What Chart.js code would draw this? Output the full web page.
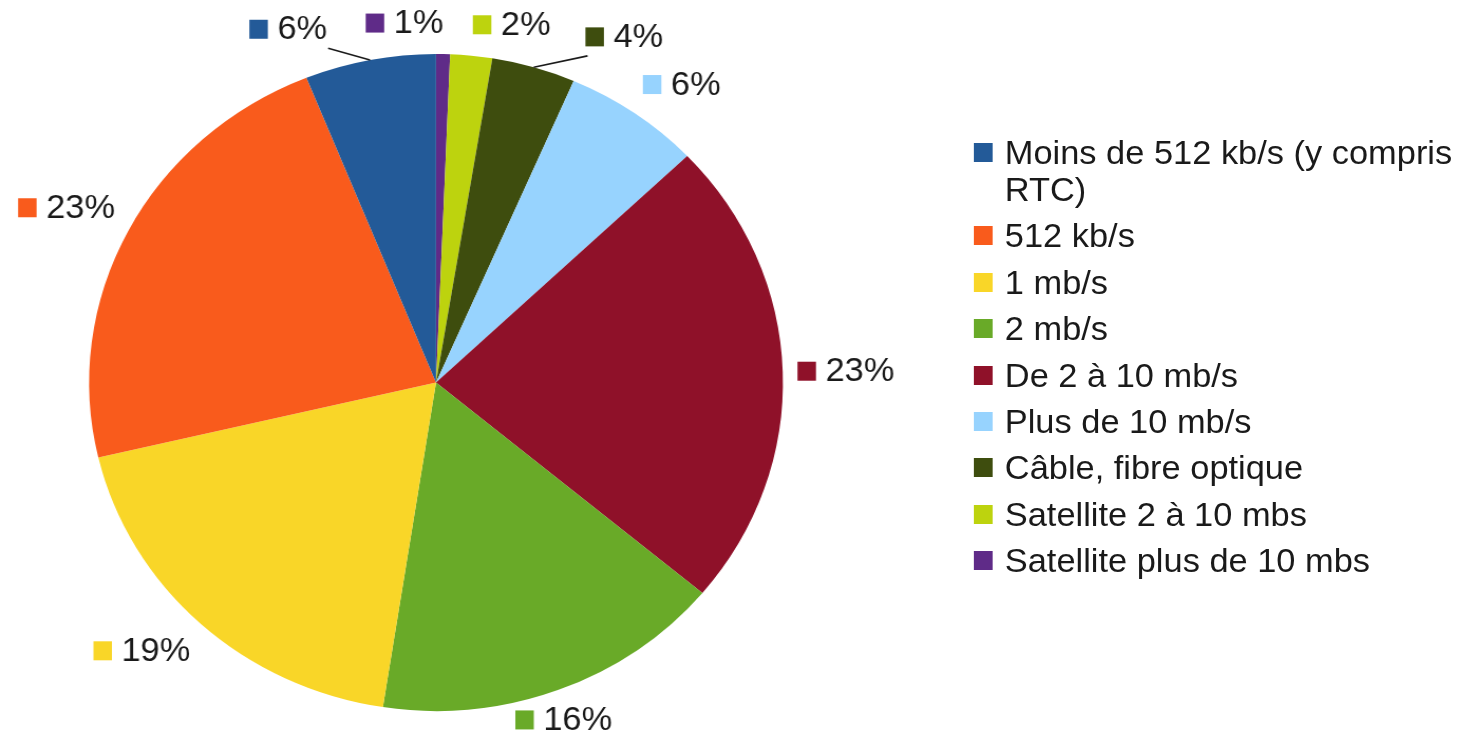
<!DOCTYPE html>
<html>
<head>
<meta charset="utf-8">
<script src="https://cdn.jsdelivr.net/npm/chart.js@4.4.1/dist/chart.umd.min.js"></script>
<style>
  html, body { margin: 0; padding: 0; background: #fff; overflow: hidden; }
  /* the source picture is a little wider than tall, so stretch the whole stage */
  #stage { position: absolute; left: 0; top: 0; width: 1390px; height: 736px;
           transform: scaleX(1.056); transform-origin: 0 0;
           font-family: "Liberation Sans", Arial, sans-serif; }
  #pieBox { position: absolute; left: 0; top: 0; width: 1390px; height: 736px; }
  #legend { position: absolute; left: 922px; top: 134px; margin: 0; padding: 0; list-style: none; }
  #legend li { position: relative; width: 432px; padding-left: 29.5px; margin-bottom: 9.4px;
               font-size: 32.6px; line-height: 37px; color: #1a1a1a; }
  #legend li span { position: absolute; left: 0; top: 9px; width: 17.5px; height: 19px; }
</style>
</head>
<body>
<div id="stage">
  <div id="pieBox"><canvas id="chart"></canvas></div>
  <ul id="legend"></ul>
</div>
<script>
const categories = [
  'Moins de 512 kb/s (y compris RTC)',
  '512 kb/s',
  '1 mb/s',
  '2 mb/s',
  'De 2 à 10 mb/s',
  'Plus de 10 mb/s',
  'Câble, fibre optique',
  'Satellite 2 à 10 mbs',
  'Satellite plus de 10 mbs'
];
const shares = [6.1, 22.6, 18.9, 16.4, 23.2, 6.4, 3.9, 1.95, 0.65];
const colors = [
  '#235a98', '#f95b1c', '#f9d628',
  '#69aa28', '#8f1129', '#97d3fe',
  '#3e4d0e', '#bdd30e', '#5f2b88'
];

// labels that get pushed sideways (with a leader line) to avoid overlapping
const labelShift = {
  'Moins de 512 kb/s (y compris RTC)': -38,
  'Câble, fibre optique': 45
};

// slices run counter-clockwise from the top in the source, so feed them reversed
let pieLabels = categories.slice().reverse();
let pieValues = shares.slice().reverse();
let pieColors = colors.slice().reverse();

const outsideLabels = {
  id: 'outsideLabels',
  afterDatasetsDraw(chart, args, opts) {
    const ctx = chart.ctx;
    const meta = chart.getDatasetMeta(0);
    const data = chart.data.datasets[0].data;
    const total = data.reduce((a, b) => a + b, 0);
    ctx.save();
    ctx.font = opts.font;
    meta.data.forEach((arc, i) => {
      const p = arc.getProps(['x', 'y', 'startAngle', 'endAngle', 'outerRadius'], true);
      const mid = (p.startAngle + p.endAngle) / 2;
      const h = Math.cos(mid), v = -Math.sin(mid);
      const R = p.outerRadius + opts.gap;
      const px = p.x + h * R, py = p.y - v * R;
      const text = Math.round(data[i] / total * 100) + '%';
      const tw = ctx.measureText(text).width;
      const bw = opts.box + opts.boxGap + tw, bh = opts.height;

      let left;
      if (v < -0.9) left = px - bw / 2;
      else if (h > 0.05) left = px;
      else left = px - bw;
      let top;
      if (v > 0.3) top = py - bh;
      else if (v < -0.3) top = py;
      else top = py - bh / 2;

      const shift = opts.shift[chart.data.labels[i]] || 0;
      left += shift;
      if (shift) {
        const ax = p.x + h * p.outerRadius, ay = p.y - v * p.outerRadius;
        const ex = shift < 0 ? left + bw + 1 : left + 2;
        ctx.strokeStyle = '#1a1a1a';
        ctx.lineWidth = 1.6;
        ctx.beginPath();
        ctx.moveTo(ax, ay);
        ctx.lineTo(ex, top + bh + 2);
        ctx.stroke();
      }

      ctx.fillStyle = chart.data.datasets[0].backgroundColor[i];
      ctx.fillRect(left, top + (bh - 19) / 2, opts.box, 19);
      ctx.fillStyle = '#1a1a1a';
      ctx.textBaseline = 'middle';
      ctx.textAlign = 'left';
      ctx.fillText(text, left + opts.box + opts.boxGap, top + bh / 2 + 1);
    });
    ctx.restore();
  }
};

new Chart(document.getElementById('chart').getContext('2d'), {
  type: 'pie',
  data: {
    labels: pieLabels,
    datasets: [{
      data: pieValues,
      backgroundColor: pieColors,
      borderWidth: 0,
      hoverOffset: 0,
      offset: 0
    }]
  },
  options: {
    responsive: true,
    maintainAspectRatio: false,
    animation: false,
    layout: { padding: { top: 54, bottom: 25, left: 84.4, right: 648.6 } },
    plugins: {
      legend: { display: false },
      tooltip: { enabled: false },
      outsideLabels: {
        font: '32.6px "Liberation Sans", Arial, sans-serif',
        gap: 14,
        box: 17.5,
        boxGap: 9,
        height: 34,
        shift: labelShift
      }
    }
  },
  plugins: [outsideLabels]
});

// legend keeps the original order
let legend = document.getElementById('legend');
categories.forEach((name, i) => {
  let li = document.createElement('li');
  let sw = document.createElement('span');
  sw.style.background = colors[i];
  li.appendChild(sw);
  li.appendChild(document.createTextNode(name));
  legend.appendChild(li);
});
</script>
</body>
</html>
